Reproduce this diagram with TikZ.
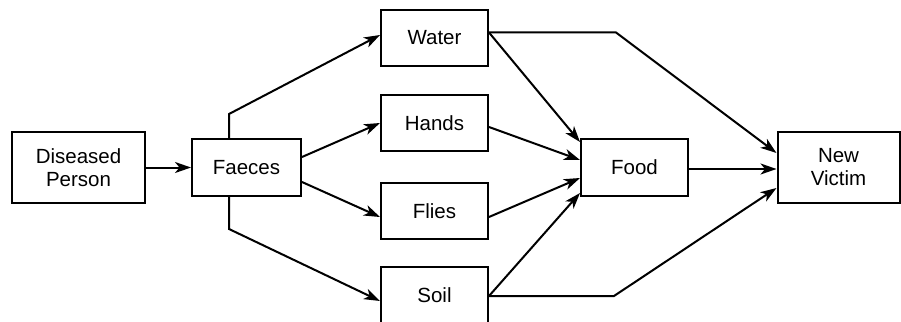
\documentclass[tikz,border=0pt]{standalone}
\usepackage{fontspec}
\setmainfont{Liberation Sans}
\usetikzlibrary{arrows.meta,calc}
\begin{document}
\begin{tikzpicture}[x=1pt,y=-1pt,
  box/.style={draw, line width=2pt, minimum width=107pt, minimum height=56pt, inner sep=2pt, align=center, font=\fontsize{20.5}{23}\selectfont},
  conn/.style={line width=2pt, -{Stealth[length=16pt,width=11pt,inset=4.5pt]}, line join=miter},
]
\useasboundingbox (0,0) rectangle (901,321);
\node[box, minimum width=133pt, minimum height=71pt] (dp) at (78.5,167.5) {Diseased\\Person};
\node[box, minimum width=109pt, minimum height=57pt] (fa) at (246.5,167.5) {Faeces};
\node[box] (wa) at (434.5,38) {Water};
\node[box] (ha) at (434.5,123) {Hands};
\node[box] (fl) at (434.5,211) {Flies};
\node[box] (so) at (434.5,295) {Soil};
\node[box, minimum height=57pt] (fo) at (634.5,167.5) {Food};
\node[box, minimum width=122pt, minimum height=71pt] (nv) at (838.5,167.5) {New\\Victim};
\coordinate (fup) at (229,114);
\coordinate (fdn) at (229,229);
\coordinate (wbend) at (616,32.5);
\coordinate (sbend) at (614,296);
\draw[conn] (dp.east) -- (fa.west);
\draw[conn] ([xshift=-17.5pt]fa.north) -- (fup) -- ([yshift=3pt]wa.west);
\draw[conn] ([yshift=10.5pt]fa.east) -- (ha.west);
\draw[conn] ([yshift=-14.5pt]fa.east) -- ([yshift=-6pt]fl.west);
\draw[conn] ([xshift=-17.5pt]fa.south) -- (fdn) -- ([yshift=-6pt]so.west);
\draw[conn] ([yshift=5.5pt]wa.east) -- (wbend) -- ([yshift=14.5pt]nv.west);
\draw[conn] ([yshift=5.5pt]wa.east) -- ([yshift=25.5pt]fo.west);
\draw[conn] ([yshift=-4pt]ha.east) -- ([yshift=7.5pt]fo.west);
\draw[conn] ([yshift=-6pt]fl.east) -- ([yshift=-10.5pt]fo.west);
\draw[conn] ([yshift=-1pt]so.east) -- ([yshift=-25.5pt]fo.west);
\draw[conn] ([yshift=-1pt]so.east) -- (sbend) -- ([yshift=-20.5pt]nv.west);
\draw[conn] ([yshift=-1.5pt]fo.east) -- ([yshift=-1.5pt]nv.west);
\end{tikzpicture}
\end{document}
